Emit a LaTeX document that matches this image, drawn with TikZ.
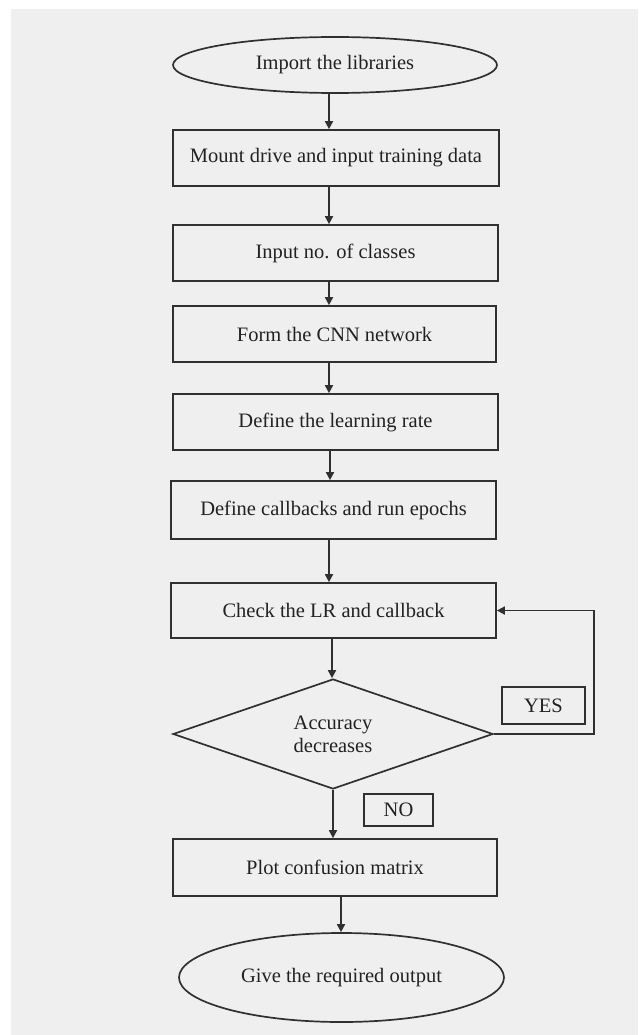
\documentclass[tikz,border=0pt]{standalone}
\usepackage{fontspec}
\setmainfont{Liberation Serif}
\usetikzlibrary{shapes.geometric,arrows.meta}
\definecolor{bg}{HTML}{EFEFEF}
\definecolor{ln}{HTML}{303030}
\definecolor{tx}{HTML}{222222}
\begin{document}
\begin{tikzpicture}[x=1pt,y=-1pt,
  base/.style={draw=ln, line width=1.7pt, text=tx, font=\fontsize{20.5}{23}\selectfont, inner sep=0pt, align=center},
  term/.style={base, ellipse},
  proc/.style={base, rectangle, minimum width=325pt, minimum height=56pt},
  dec/.style={base, diamond, shape aspect=2.9, minimum width=320pt, minimum height=110pt},
  tag/.style={base, rectangle, line width=1.5pt},
  arr/.style={draw=ln, line width=1.7pt, -{Triangle[length=8pt,width=8pt]}}]
\useasboundingbox (0,0) rectangle (638,1035);
\fill[white] (0,0) rectangle (638,1035);
\fill[bg] (11,9) rectangle (638,1035);

\node[term, minimum width=324pt, minimum height=56pt] (e1) at (335,65) {Import the libraries};
\node[proc, minimum width=326pt] (b1) at (336,158) {Mount drive and input training data};
\node[proc] (b2) at (335.5,253) {Input no. of classes};
\node[proc, minimum width=323pt] (b3) at (334.5,334) {Form the CNN network};
\node[proc] (b4) at (335.5,422) {Define the learning rate};
\node[proc, minimum height=58pt] (b5) at (333.5,510) {Define callbacks and run epochs};
\node[proc, minimum height=55pt] (b6) at (333.5,610.5) {Check the LR and callback};
\node[dec] (d) at (333,734) {Accuracy\\decreases};
\node[tag, minimum width=83pt, minimum height=37pt] (yes) at (543.5,705.5) {YES};
\node[tag, minimum width=69pt, minimum height=32pt] (no) at (398.5,810) {NO};
\node[proc, minimum width=324pt, minimum height=57pt] (b7) at (335,867.5) {Plot confusion matrix};
\node[term, minimum width=325pt, minimum height=89pt] (e2) at (341.5,977.5) {Give the required output};

\coordinate (a1) at (329,0);
\coordinate (a2) at (330,0);
\coordinate (a3) at (332,0);
\coordinate (a4) at (333,0);
\coordinate (a5) at (341,0);
\coordinate (lp) at (594,670);

\draw[arr] (e1.south -| a1) -- (b1.north -| a1);
\draw[arr] (b1.south -| a1) -- (b2.north -| a1);
\draw[arr] (b2.south -| a1) -- (b3.north -| a1);
\draw[arr] (b3.south -| a1) -- (b4.north -| a1);
\draw[arr] (b4.south -| a2) -- (b5.north -| a2);
\draw[arr] (b5.south -| a1) -- (b6.north -| a1);
\draw[arr] (b6.south -| a3) -- (d.north -| a3);
\draw[arr] (d.south -| a4) -- (b7.north -| a4);
\draw[arr] (b7.south -| a5) -- (e2.north -| a5);
\draw[arr] (d.east) -| (lp) |- (b6.east);
\end{tikzpicture}
\end{document}
